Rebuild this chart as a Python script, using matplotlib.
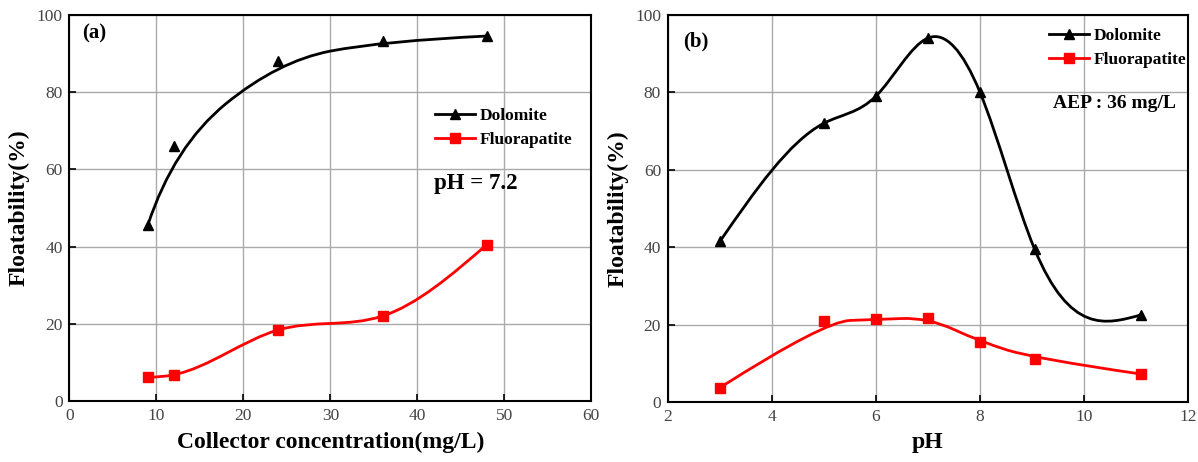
import numpy as np
import matplotlib.pyplot as plt
from matplotlib.path import Path
from matplotlib.patches import PathPatch
from matplotlib.lines import Line2D

plt.rcParams['font.family'] = ['Liberation Serif', 'DejaVu Serif']

# (a) collector concentration series
conc = np.array([9, 12, 24, 36, 48])  # mg/L
dol_a = np.array([45.5, 66.0, 88.0, 93.2, 94.5])
fap_a = np.array([6.1, 6.8, 18.4, 22.0, 40.5])

# (b) pH series
ph = np.array([3.0, 5.0, 6.0, 7.0, 8.0, 9.05, 11.1])
dol_b = np.array([41.5, 72.0, 79.0, 94.0, 80.0, 39.5, 22.5])
fap_b = np.array([3.7, 20.8, 21.3, 21.8, 15.6, 11.2, 7.2])


def spline_path(x, y):
    """natural cubic spline through the points, as bezier segments"""
    n = len(x)
    h = np.diff(x)
    A = np.zeros((n, n))
    r = np.zeros(n)
    A[0, 0] = A[-1, -1] = 1
    for i in range(1, n - 1):
        A[i, i - 1] = h[i - 1]
        A[i, i] = 2 * (h[i - 1] + h[i])
        A[i, i + 1] = h[i]
        r[i] = 6 * ((y[i + 1] - y[i]) / h[i] - (y[i] - y[i - 1]) / h[i - 1])
    M = np.linalg.solve(A, r)
    m = np.zeros(n)
    for i in range(n - 1):
        m[i] = (y[i + 1] - y[i]) / h[i] - h[i] * (2 * M[i] + M[i + 1]) / 6
    m[-1] = (y[-1] - y[-2]) / h[-1] + h[-1] * (M[-2] + 2 * M[-1]) / 6
    verts = [(x[0], y[0])]
    codes = [Path.MOVETO]
    for i in range(n - 1):
        verts += [(x[i] + h[i] / 3, y[i] + m[i] * h[i] / 3),
                  (x[i + 1] - h[i] / 3, y[i + 1] - m[i + 1] * h[i] / 3),
                  (x[i + 1], y[i + 1])]
        codes += [Path.CURVE4] * 3
    return Path(verts, codes)


def bspline_path(x, y):
    """quadratic b-spline with the points as control points"""
    pts = np.column_stack([x, y])
    verts = [tuple(pts[0])]
    codes = [Path.MOVETO]
    for i in range(1, len(pts) - 1):
        end = pts[i + 1] if i == len(pts) - 2 else (pts[i] + pts[i + 1]) / 2
        verts += [tuple(pts[i]), tuple(end)]
        codes += [Path.CURVE3] * 2
    return Path(verts, codes)


def draw(ax, x, y, color, marker, ms, path):
    ax.add_patch(PathPatch(path, fill=False, edgecolor=color, lw=2, zorder=3))
    ax.plot(x, y, ls='none', marker=marker, ms=ms, color=color, zorder=4)


fig = plt.figure(figsize=(11.98, 4.62), dpi=100)
ax1 = fig.add_axes([0.058, 0.132, 0.4355, 0.836])
ax2 = fig.add_axes([0.5576, 0.130, 0.434, 0.838])

draw(ax1, conc, dol_a, 'black', '^', 7.5, bspline_path(conc, dol_a))
draw(ax1, conc, fap_a, 'red', 's', 6.5, spline_path(conc, fap_a))
draw(ax2, ph, dol_b, 'black', '^', 7.5, spline_path(ph, dol_b))
draw(ax2, ph, fap_b, 'red', 's', 6.5, bspline_path(ph, fap_b))

ax1.set_xlim(0, 60)
ax1.set_xticks(np.arange(0, 61, 10))
ax2.set_xlim(2, 12)
ax2.set_xticks(np.arange(2, 13, 2))

handles = [Line2D([], [], color='black', lw=2, marker='^', ms=7.5),
           Line2D([], [], color='red', lw=2, marker='s', ms=6.5)]
labels = ['Dolomite', 'Fluorapatite']

for ax in (ax1, ax2):
    ax.set_ylim(0, 100)
    ax.set_yticks(np.arange(0, 101, 20))
    ax.grid(True, color='#aaaaaa', lw=1)
    ax.set_axisbelow(True)
    ax.tick_params(direction='in', length=5, width=1.2, labelsize=12.5,
                   labelcolor='#444444', pad=5)
    for s in ax.spines.values():
        s.set_linewidth(1.5)
    ax.set_ylabel('Floatability(%)', fontsize=17, fontweight='bold', labelpad=5)

ax1.set_xlabel('Collector concentration(mg/L)', fontsize=17, fontweight='bold', labelpad=6)
ax2.set_xlabel('pH', fontsize=17, fontweight='bold', labelpad=5)

ax1.legend(handles, labels, loc='upper left', bbox_to_anchor=(0.70, 0.758),
           frameon=False, borderpad=0, borderaxespad=0, handlelength=2.3,
           handletextpad=0.3, labelspacing=0.45,
           prop={'weight': 'bold', 'size': 12.5})
ax2.legend(handles, labels, loc='upper left', bbox_to_anchor=(0.732, 0.967),
           frameon=False, borderpad=0, borderaxespad=0, handlelength=2.3,
           handletextpad=0.3, labelspacing=0.45,
           prop={'weight': 'bold', 'size': 12.5})

ax1.text(0.024, 0.951, '(a)', transform=ax1.transAxes, fontsize=15,
         fontweight='bold', va='center')
ax2.text(0.029, 0.932, '(b)', transform=ax2.transAxes, fontsize=15,
         fontweight='bold', va='center')
ax1.text(0.699, 0.562, 'pH = 7.2', transform=ax1.transAxes, fontsize=16.5,
         fontweight='bold', va='center')
ax2.text(0.740, 0.77, 'AEP : 36 mg/L', transform=ax2.transAxes, fontsize=14,
         fontweight='bold', va='center')

fig.savefig('out.png', dpi=100)
